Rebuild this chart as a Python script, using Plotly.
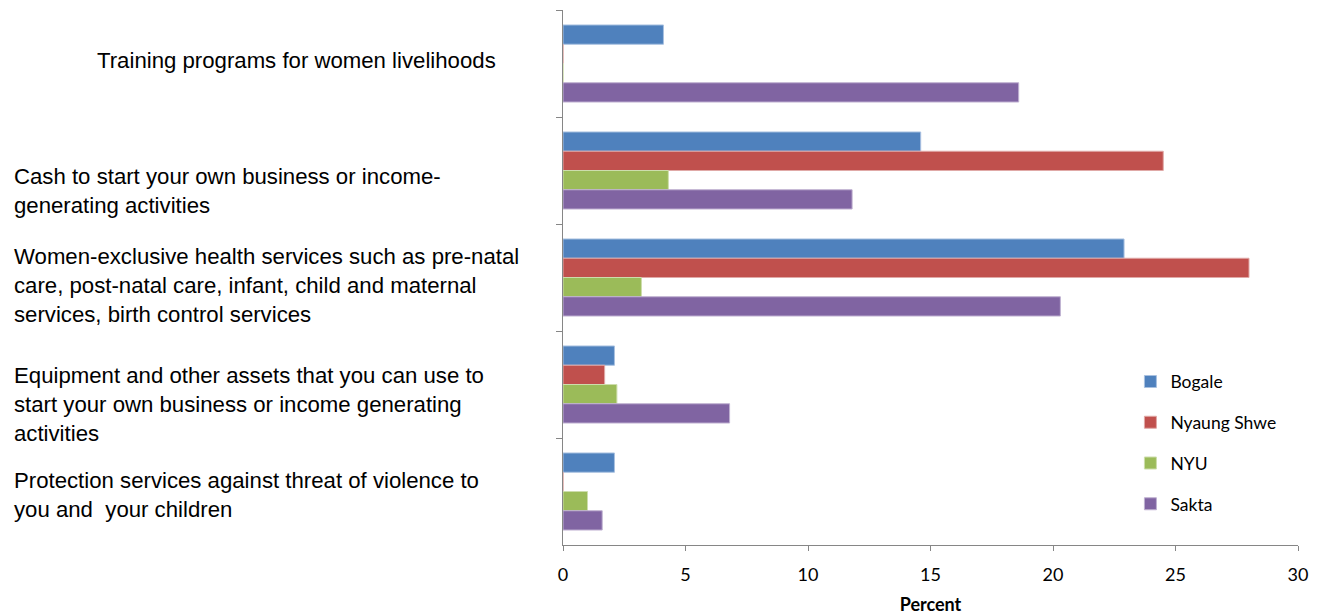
import plotly.graph_objects as go

# ---- data ----
categories = ["Training", "Cash", "Health", "Equipment", "Protection"]
category_labels = [
    "Training programs for women livelihoods",
    "Cash to start your own business or income-<br>generating activities",
    "Women-exclusive health services such as pre-natal<br>care, post-natal care, infant, child and maternal<br>services, birth control services",
    "Equipment and other assets that you can use to<br>start your own business or income generating<br>activities",
    "Protection services against threat of violence to<br>you and  your children",
]
series_names = ["Bogale", "Nyaung Shwe", "NYU", "Sakta"]
bogale = [4.1, 14.6, 22.9, 2.1, 2.1]
nyaung_shwe = [0, 24.5, 28.0, 1.7, 0]
nyu = [0, 4.3, 3.2, 2.2, 1.0]
sakta = [18.6, 11.8, 20.3, 6.8, 1.6]
x_ticks = [0, 5, 10, 15, 20, 25, 30]

# ---- styles ----
colors = ["#4F81BD", "#C0504D", "#9BBB59", "#8064A2"]
edge_colors = ["#A9C1E0", "#E0A9A7", "#CDDDAC", "#BFB1D1"]
W, H = 1317, 615
ML, MR, MT, MB = 563, 19, 10, 70
plot_w = W - ML - MR

fig = go.Figure()
for i, (name, vals) in enumerate(zip(series_names, [bogale, nyaung_shwe, nyu, sakta])):
    fig.add_trace(go.Bar(
        y=categories, x=vals, name=name, orientation="h",
        marker=dict(color=colors[i], line=dict(color=edge_colors[i], width=1)),
        legendgroup=name,
    ))

# category labels (left aligned text blocks)
label_left_px = [95, 12, 12, 12, 12]
label_yshift = [3, -20, -8, -20, -3]
for cat, txt, lx, ys in zip(categories, category_labels, label_left_px, label_yshift):
    fig.add_annotation(
        x=(lx - ML) / plot_w, xref="paper", y=cat, yref="y",
        text=txt, showarrow=False, xanchor="left", yanchor="middle",
        align="left", yshift=ys,
        font=dict(family="Liberation Sans", size=22.2, color="#000000"),
    )

axis_color = "#868686"
fig.update_layout(
    width=W, height=H,
    margin=dict(l=ML, r=MR, t=MT, b=MB, autoexpand=False),
    paper_bgcolor="white", plot_bgcolor="white",
    barmode="group", bargap=0.28, bargroupgap=0,
    font=dict(family="Lato", size=18, color="#000000"),
    xaxis=dict(
        range=[0, 30], tickvals=x_ticks, ticks="outside", ticklen=5,
        tickcolor=axis_color, showline=True, linecolor=axis_color, linewidth=1,
        showgrid=False, zeroline=False, ticklabelstandoff=8, automargin=False,
        tickfont=dict(family="Lato", size=18, color="#000000"),
        title=dict(text="<b>Percent</b>", font=dict(family="Lato", size=18), standoff=26),
    ),
    yaxis=dict(
        type="category", autorange="reversed", categoryorder="array",
        categoryarray=categories, tickson="boundaries", ticks="outside",
        ticklen=6, tickcolor=axis_color, showticklabels=False,
        showline=True, linecolor=axis_color, linewidth=1, showgrid=False,
        zeroline=False, automargin=False,
    ),
    legend=dict(
        x=0.772, xanchor="left", y=0.339, yanchor="top",
        tracegroupgap=15, font=dict(family="Lato", size=17.5, color="#000000"),
        bgcolor="rgba(0,0,0,0)",
    ),
    showlegend=True,
)

fig.write_html("out.html")
